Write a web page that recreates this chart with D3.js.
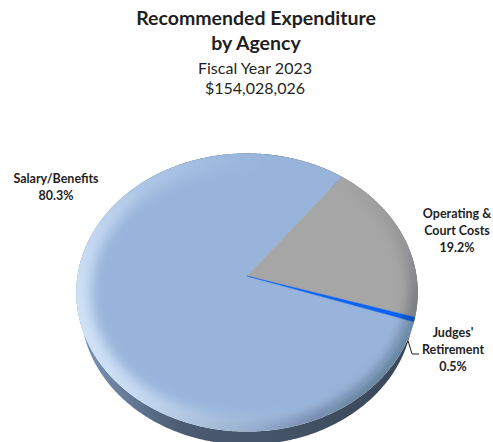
<!DOCTYPE html>
<meta charset="utf-8">
<script src="https://d3js.org/d3.v7.min.js"></script>
<style>
  body { margin: 0; background: #fff; }
  text { font-family: Lato, "Noto Sans", sans-serif; fill: #1f1f1f; }
</style>
<div id="chart"></div>
<script>
// chart data
var categories = ["Salary/Benefits", "Operating & Court Costs", "Judges' Retirement"];
var shares = [80.3, 19.2, 0.5];
var labelLines = [["Salary/Benefits"], ["Operating &", "Court Costs"], ["Judges'", "Retirement"]];
var titleLines = ["Recommended Expenditure", "by Agency"];
var subtitleLines = ["Fiscal Year 2023", "$154,028,026"];

var width = 493, height = 442;
var topColors = ["#98b4db", "#a6a6a6", "#0d63f0"];
var sideColors = [["#7d97b8", "#4b5b72", "#3a4657"], ["#8c8c8c", "#727272", "#5c5c5c"], ["#0b52c8", "#0b52c8", "#0b52c8"]];
var labelPos = [[56, 183], [457, 218], [453, 337]];

// simple perspective camera looking down on the pie
var cx = 247, cy = 276, focal = 841, dist = 4.96, tilt = 54 * Math.PI / 180, depth = 0.16;
function project(a, r, h) {
  var u = r * Math.sin(a), v = -r * Math.cos(a);
  var z = dist - v * Math.cos(tilt) - h * Math.sin(tilt);
  return [cx + focal * u / z, cy + focal * (v * Math.sin(tilt) - h * Math.cos(tilt)) / z];
}
function arcPts(a0, a1, h) {
  var n = Math.max(2, Math.ceil(Math.abs(a1 - a0) / 0.01));
  return d3.range(n + 1).map(function(i) { return project(a0 + (a1 - a0) * i / n, 1, h); });
}

var svg = d3.select("#chart").append("svg")
  .attr("width", width).attr("height", height);
var defs = svg.append("defs");
var line = d3.line();

var start = 108.7 * Math.PI / 180;
var slices = d3.pie().sort(null).value(function(d) { return d; })
  .startAngle(start).endAngle(start + 2 * Math.PI)(shares);

// side gradients
sideColors.forEach(function(c, i) {
  var g = defs.append("linearGradient").attr("id", "side" + i)
    .attr("gradientUnits", "userSpaceOnUse")
    .attr("x1", 78).attr("y1", 0).attr("x2", 420).attr("y2", 0);
  g.append("stop").attr("offset", 0).attr("stop-color", c[0]);
  g.append("stop").attr("offset", 0.3).attr("stop-color", c[1]);
  g.append("stop").attr("offset", 1).attr("stop-color", c[2]);
});

// sides first
slices.forEach(function(s, i) {
  var pts = arcPts(s.startAngle, s.endAngle, 0).concat(arcPts(s.endAngle, s.startAngle, -depth));
  svg.append("path").attr("d", line(pts) + "Z").attr("fill", "url(#side" + i + ")");
});

// top face
var outline = arcPts(0, 2 * Math.PI, 0);
defs.append("clipPath").attr("id", "topClip")
  .append("path").attr("d", line(outline) + "Z");

var topG = svg.append("g").attr("clip-path", "url(#topClip)");
slices.forEach(function(s, i) {
  var pts = [project(0, 0, 0)].concat(arcPts(s.startAngle, s.endAngle, 0));
  topG.append("path").attr("d", line(pts) + "Z").attr("fill", topColors[i])
    .attr("stroke", topColors[i]).attr("stroke-width", 0.5);
});

// bevel shading
defs.append("filter").attr("id", "blur").attr("x", -0.2).attr("y", -0.2).attr("width", 1.4).attr("height", 1.4)
  .append("feGaussianBlur").attr("stdDeviation", 6);
var hl = defs.append("linearGradient").attr("id", "hl")
  .attr("gradientUnits", "userSpaceOnUse")
  .attr("x1", 80).attr("y1", 380).attr("x2", 310).attr("y2", 300);
hl.append("stop").attr("offset", 0).attr("stop-color", "#e2f0ff").attr("stop-opacity", 0.85);
hl.append("stop").attr("offset", 0.5).attr("stop-color", "#e2f0ff").attr("stop-opacity", 0.3);
hl.append("stop").attr("offset", 1).attr("stop-color", "#e2f0ff").attr("stop-opacity", 0);
var sh = defs.append("linearGradient").attr("id", "sh")
  .attr("gradientUnits", "userSpaceOnUse")
  .attr("x1", 260).attr("y1", 260).attr("x2", 410).attr("y2", 390);
sh.append("stop").attr("offset", 0).attr("stop-color", "#0a1424").attr("stop-opacity", 0);
sh.append("stop").attr("offset", 0.5).attr("stop-color", "#0a1424").attr("stop-opacity", 0.1);
sh.append("stop").attr("offset", 1).attr("stop-color", "#0a1424").attr("stop-opacity", 0.45);

topG.append("path").attr("d", line(outline) + "Z")
  .attr("fill", "none").attr("stroke", "url(#hl)").attr("stroke-width", 30)
  .attr("filter", "url(#blur)");
topG.append("path").attr("d", line(outline) + "Z")
  .attr("fill", "none").attr("stroke", "url(#sh)").attr("stroke-width", 18)
  .attr("filter", "url(#blur)");

// titles
titleLines.forEach(function(t, i) {
  svg.append("text").attr("x", 256).attr("y", 25 + i * 25)
    .attr("text-anchor", "middle").attr("font-size", 19.5).attr("font-weight", "bold").text(t);
});
subtitleLines.forEach(function(t, i) {
  svg.append("text").attr("x", 255).attr("y", 74 + i * 20)
    .attr("text-anchor", "middle").attr("font-size", 16).text(t);
});

// slice labels
labelLines.forEach(function(lines, i) {
  var all = lines.concat([shares[i].toFixed(1) + "%"]);
  all.forEach(function(t, j) {
    svg.append("text").attr("x", labelPos[i][0]).attr("y", labelPos[i][1] + j * 16.8)
      .attr("text-anchor", "middle").attr("font-size", 12.5).attr("font-weight", "bold").text(t);
  });
});

// leader for the thin slice
var js = slices[2];
var p0 = project((js.startAngle + js.endAngle) / 2 + 5 * Math.PI / 180, 1, -0.1);
svg.append("path")
  .attr("d", line([p0, [p0[0] + 4, 354], [419, 354]]))
  .attr("fill", "none").attr("stroke", "#1f1f1f").attr("stroke-width", 1);
</script>
